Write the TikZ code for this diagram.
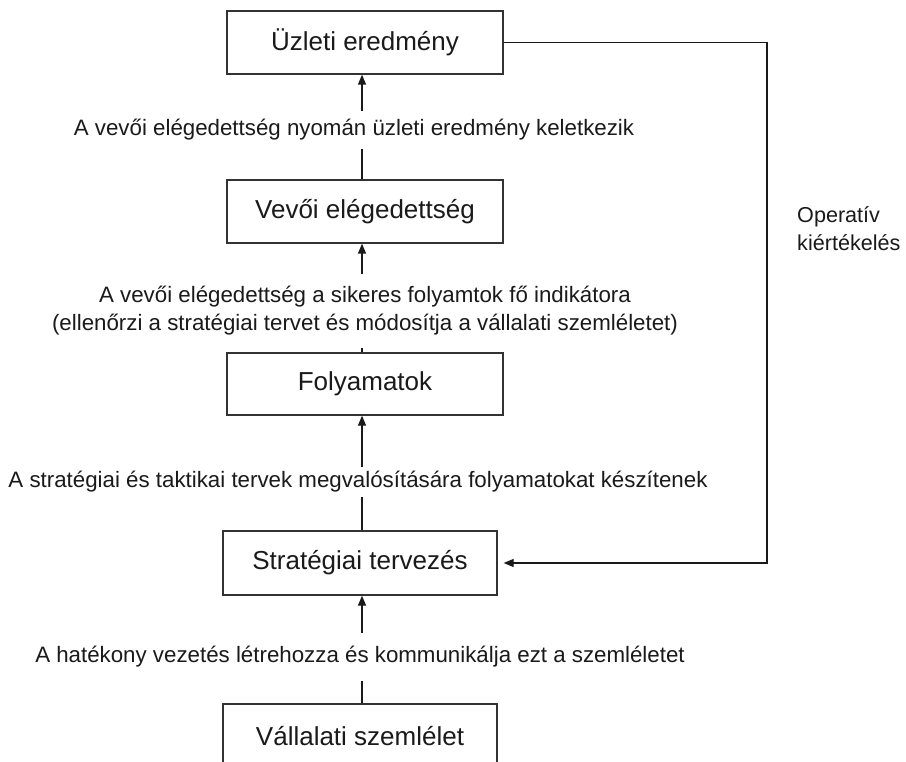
\documentclass[tikz,border=0pt]{standalone}
\usepackage{fontspec}
\setmainfont{Liberation Sans}
\usetikzlibrary{arrows.meta}
\definecolor{ink}{HTML}{1A1A1A}
\definecolor{boxline}{HTML}{333333}
\begin{document}
\begin{tikzpicture}[x=1pt,y=-1pt,
  stage/.style={draw=boxline,line width=1.3pt,minimum width=276pt,minimum height=63pt,
    inner sep=0pt,font=\fontsize{26}{30}\selectfont,text=ink},
  note/.style={fill=white,inner xsep=2pt,font=\fontsize{22.3}{28}\selectfont,text=ink,align=center},
  link/.style={draw=ink,line width=1.3pt,-{Triangle[length=10pt,width=8pt]}},
]
\clip (0,0) rectangle (906,762);
\fill[white] (0,0) rectangle (906,762);

% the five stages, top to bottom
\node[stage] (result) at (365,42.5) {Üzleti eredmény};
\node[stage] (satisf) at (365,211.5) {Vevői elégedettség};
\node[stage, minimum height=62pt] (proc) at (365,384) {Folyamatok};
\node[stage, minimum width=274pt, minimum height=64pt] (plan) at (360,563) {Stratégiai tervezés};
\node[stage, minimum width=274pt, minimum height=64pt] (vision) at (360,736) {Vállalati szemlélet};

% vertical axis of the upward arrows
\coordinate (axis) at (362,0);
\draw[link] (vision.north -| axis) -- (plan.south -| axis);
\draw[link] (plan.north -| axis) -- (proc.south -| axis);
\draw[link] (proc.north -| axis) -- (satisf.south -| axis);
\draw[link] (satisf.north -| axis) -- (result.south -| axis);

% feedback loop on the right
\coordinate (turn) at (767,42.5);
\draw[link] (result.east) -- (turn) |- ([xshift=6pt]plan.east);
\node[anchor=west, align=left, inner sep=0pt, font=\fontsize{21.6}{28}\selectfont, text=ink] (op) at (797,229)
  {Operatív\\kiértékelés};

% labels sitting on the arrows
\node[note, inner ysep=8pt] (n1) at (354,130)
  {A vevői elégedettség nyomán üzleti eredmény keletkezik};
\node[note, inner ysep=12pt] (n2) at (365,311)
  {A vevői elégedettség a sikeres folyamtok fő indikátora\\(ellenőrzi a stratégiai tervet és módosítja a vállalati szemléletet)};
\node[note, inner ysep=4pt] (n3) at (358,482)
  {A stratégiai és taktikai tervek megvalósítására folyamatokat készítenek};
\node[note, inner ysep=13pt] (n4) at (360,657)
  {A hatékony vezetés létrehozza és kommunikálja ezt a szemléletet};
\end{tikzpicture}
\end{document}
